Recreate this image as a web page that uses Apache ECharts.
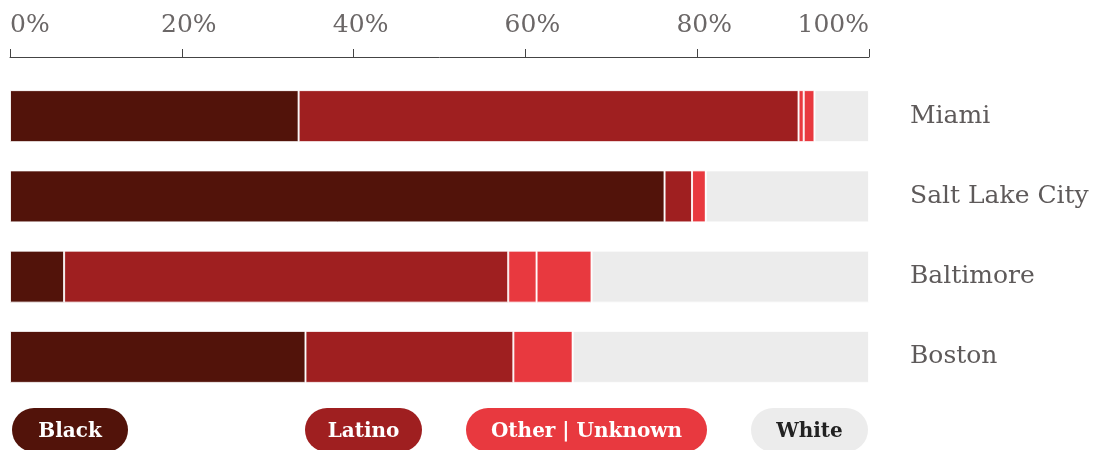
<!DOCTYPE html>
<html>
<head>
<meta charset="utf-8">
<script src="https://cdn.jsdelivr.net/npm/echarts@6/dist/echarts.min.js"></script>
<style>html,body{margin:0;padding:0;background:#fff}#c{width:1094px;height:450px}</style>
</head>
<body>
<div id="c"></div>
<script>
var cities = ['Miami', 'Salt Lake City', 'Baltimore', 'Boston'];
var black   = [33.6, 76.2, 6.3, 34.4];
var latino  = [58.2, 3.2, 51.7, 24.2];
var other   = [0.6, 1.6, 3.3, 6.9];
var unknown = [1.25, 0, 6.4, 0];
var white   = [6.35, 19.0, 32.3, 34.5];
var tickLabels = ['0%', '20%', '40%', '60%', '80%', '100%'];

var colors = {black:'#52130a', latino:'#9f1f20', other:'#e8393f', white:'#ececec'};
var FONT = 'DejaVu Serif';

function bar(name, data, color) {
  return {
    name: name, type: 'bar', stack: 'all', data: data, barWidth: 52,
    itemStyle: {color: color, borderColor: 'rgba(255,255,255,0.85)', borderWidth: 1},
    emphasis: {disabled: true}
  };
}
function pill(name, left, bg, fg, w) {
  return {
    left: left, top: 408, icon: 'none', itemWidth: 0, itemHeight: 0, itemGap: 0, padding: 0,
    selectedMode: false,
    data: [{name: name}],
    formatter: function (n) { return '{p|' + n + '}'; },
    textStyle: {
      rich: {
        p: {
          color: fg, fontFamily: FONT, fontWeight: 'bold', fontSize: 20, lineHeight: 26,
          backgroundColor: bg, borderRadius: 22, padding: [14, 0, 10, 0], width: w, align: 'center'
        }
      }
    }
  };
}

var chart = echarts.init(document.getElementById('c'), null, {renderer: 'canvas'});
chart.setOption({
  animation: false,
  grid: {left: 10, right: 225, top: 76, bottom: 53, containLabel: false, outerBoundsMode: 'none'},
  xAxis: {
    type: 'value', position: 'top', min: 0, max: 100, interval: 20, offset: 19,
    axisLine: {show: true, lineStyle: {color: '#444', width: 1}},
    axisTick: {show: true, length: 8, lineStyle: {color: '#444'}},
    splitLine: {show: false},
    axisLabel: {
      margin: 19, color: '#6b6767', fontFamily: FONT, fontSize: 25,
      alignMinLabel: 'left', alignMaxLabel: 'right',
      formatter: function (v) {
        var i = Math.round(v / 20);
        if (i === 0 || i === 5) return tickLabels[i];
        return '{m|' + tickLabels[i] + '}';
      },
      rich: {m: {color: '#6b6767', fontFamily: FONT, fontSize: 25, padding: [0, 0, 0, 14]}}
    }
  },
  yAxis: {
    type: 'category', data: cities, inverse: true, position: 'right',
    axisLine: {show: false}, axisTick: {show: false},
    axisLabel: {margin: 41, color: '#5e5a5a', fontFamily: FONT, fontSize: 25, align: 'left'}
  },
  legend: [
    pill('Black', 7, colors.black, '#fff', 116),
    pill('Latino', 300, colors.latino, '#fff', 117),
    pill('Other | Unknown', 461, colors.other, '#fff', 241),
    pill('White', 746, colors.white, '#222', 117)
  ],
  series: [
    bar('Black', black, colors.black),
    bar('Latino', latino, colors.latino),
    bar('Other | Unknown', other, colors.other),
    bar('Other | Unknown', unknown, colors.other),
    bar('White', white, colors.white)
  ]
});
</script>
</body>
</html>
